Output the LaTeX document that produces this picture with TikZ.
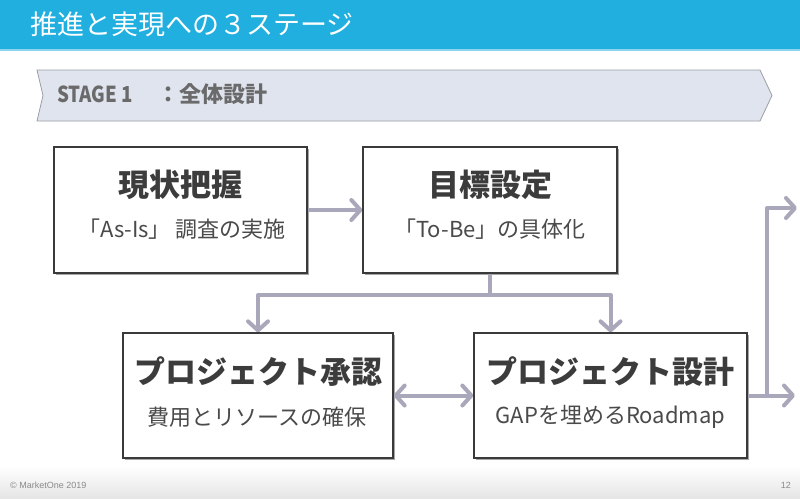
\documentclass[tikz,border=0pt]{standalone}
\usepackage{fontspec}
\setmainfont{Noto Sans CJK JP}
\newfontfamily\footfont{Liberation Sans}
\usetikzlibrary{arrows.meta,shadows}
\definecolor{barblue}{HTML}{20AFDF}
\definecolor{barline}{HTML}{8CD3EE}
\definecolor{bannerfill}{HTML}{DFE4EE}
\definecolor{bannerdraw}{HTML}{9C9EA4}
\definecolor{bannertext}{HTML}{6A6A6A}
\definecolor{conncol}{HTML}{A9A7BA}
\definecolor{boxdraw}{HTML}{3A3A3A}
\definecolor{titlecol}{HTML}{3C3C3C}
\definecolor{subcol}{HTML}{4A4A4A}
\definecolor{footcol}{HTML}{8A8A8A}
\tikzset{
  stagebox/.style={draw=boxdraw, line width=1.3pt, fill=white, minimum height=126pt, inner sep=0pt,
    drop shadow={shadow xshift=2.2pt, shadow yshift=-2.2pt, fill=black, opacity=0.35}},
  boxtitle/.style={inner sep=0pt, text=titlecol, font=\fontsize{31}{31}\selectfont\bfseries},
  boxsub/.style={inner sep=0pt, text=subcol, font=\fontsize{22}{22}\selectfont},
  conn/.style={draw=conncol, line width=4pt, line join=round,
    arrows={-{Straight Barb[length=9pt,width=20pt,line cap=round,line join=round]}}},
  conn2/.style={draw=conncol, line width=4pt,
    arrows={{Straight Barb[length=9pt,width=20pt,line cap=round,line join=round]}-{Straight Barb[length=9pt,width=20pt,line cap=round,line join=round]}}},
  plain/.style={draw=conncol, line width=4pt, line join=round}
}
\begin{document}
\begin{tikzpicture}[x=1pt,y=-1pt]
\useasboundingbox (0,0) rectangle (800,498);
\fill[white] (0,0) rectangle (800,498);
% footer
\shade[top color=white, bottom color=black!10] (0,466) rectangle (800,498);
\node[font=\footfont\fontsize{9}{9}\selectfont, text=footcol, anchor=west, inner sep=0pt] (copy) at (10,485) {© MarketOne 2019};
\node[font=\footfont\fontsize{9}{9}\selectfont, text=footcol, anchor=east, inner sep=0pt] (page) at (791,485) {12};
% title bar
\fill[barblue] (0,0) rectangle (800,50);
\fill[barline] (0,49) rectangle (800,51);
\node[anchor=west, inner sep=0pt, text=white, font=\fontsize{27}{27}\selectfont] (title) at (30,24) {推進と実現への３ステージ};
% banner
\draw[fill=bannerfill, draw=bannerdraw, line width=0.8pt] (37,70) -- (760,70) -- (772,95.5) -- (760,121) -- (37,121) -- (43,95.5) -- cycle;
\node[anchor=west, inner sep=0pt, text=bannertext, font=\fontsize{22}{22}\selectfont\bfseries] (stage) at (57,94.5) {\scalebox{0.85}[1]{STAGE 1}\hspace{24pt}：全体設計};
% boxes
\node[stagebox, minimum width=253pt] (b1) at (180.5,210) {};
\node[stagebox, minimum width=254pt] (b2) at (490,210) {};
\node[stagebox, minimum width=270pt, minimum height=125pt] (b3) at (258,395.5) {};
\node[stagebox, minimum width=273pt, minimum height=125pt] (b4) at (610.5,395.5) {};
% texts
\node[boxtitle] (t1) at (180.5,185) {現状把握};
\node[boxsub] (s1) at (182,229) {「As-Is」 調査の実施};
\node[boxtitle] (t2) at (490,185) {目標設定};
\node[boxsub] (s2) at (490,229) {「To-Be」の具体化};
\node[boxtitle] (t3) at (258,372) {プロジェクト承認};
\node[boxsub] (s3) at (257,417) {費用とリソースの確保};
\node[boxtitle] (t4) at (610.5,372) {プロジェクト設計};
\node[boxsub] (s4) at (610.5,417) {GAPを埋めるRoadmap};
% connectors
\coordinate (j) at (490,295);
\coordinate (k) at (767,395.5);
\coordinate (e1) at (795,395.5);
\coordinate (e2) at (797,208);
\draw[conn] (b1.east) -- (b2.west);
\draw[plain] (b2.south) -- (j);
\draw[conn] (j) -| (b3.north);
\draw[conn] (j) -| (b4.north);
\draw[conn2] (b3.east) -- (b4.west);
\draw[conn] (b4.east) -- (e1);
\draw[conn] (k) |- (e2);
\end{tikzpicture}
\end{document}
